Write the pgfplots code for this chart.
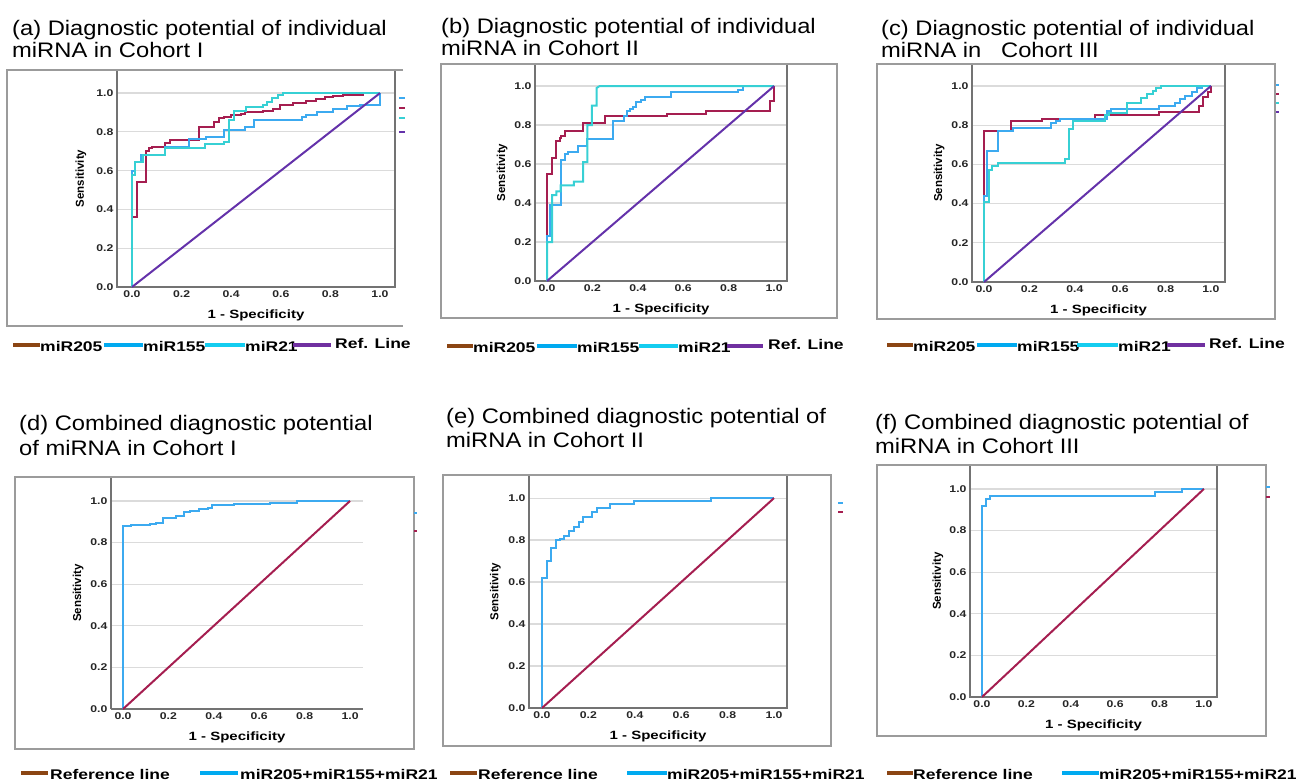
\documentclass[border=0pt]{standalone}
\usepackage{fontspec}
\setmainfont{Liberation Sans}
\newfontfamily\wide[FakeStretch=1.25]{Liberation Sans}
\newfontfamily\tfont[FakeStretch=1.13]{Liberation Sans}
\usepackage{pgfplots}
\pgfplotsset{compat=1.18}
\definecolor{c205}{RGB}{165,30,80}
\definecolor{c155}{RGB}{60,170,240}
\definecolor{c21}{RGB}{55,208,212}
\definecolor{cref}{RGB}{100,50,170}
\definecolor{lbrown}{RGB}{139,69,19}
\definecolor{lblue}{RGB}{0,170,240}
\definecolor{lcyan}{RGB}{20,205,240}
\definecolor{lpurple}{RGB}{112,48,160}
\definecolor{frame}{RGB}{155,155,155}
\definecolor{axisgray}{RGB}{115,115,115}

\pgfplotsset{
  roc/.style={
    scale only axis, anchor=north west,
    xtick={0,0.2,0.4,0.6,0.8,1}, ytick={0,0.2,0.4,0.6,0.8,1},
    xticklabels={0.0,0.2,0.4,0.6,0.8,1.0},
    yticklabels={0.0,0.2,0.4,0.6,0.8,1.0},
    major tick length=0pt,
    ymajorgrids, grid style={color=black!14, line width=1.2pt},
    axis line style={axisgray, line width=1.4pt},
    tick label style={font=\wide\fontsize{9.8}{11}\selectfont\bfseries, text=black!85},
    xlabel={1 - Specificity}, ylabel={Sensitivity},
    xlabel style={font=\wide\fontsize{12}{14}\selectfont\bfseries,
      at={(axis description cs:0.5,0)}, anchor=center, yshift=-28pt},
    ylabel style={font=\fontsize{11.5}{13}\selectfont\bfseries,
      at={(axis description cs:-0.13,0.5)}, anchor=center},
    ymin=0,
    every axis plot/.append style={line width=2pt},
  }
}
\newcommand{\lbar}[4]{\draw[#4, line width=4pt] (#1pt,-#3pt) -- (#2pt,-#3pt);}
\newcommand{\ltext}[3]{\node[anchor=west, inner sep=0pt, font=\wide\fontsize{14}{16}\selectfont\bfseries] at (#1pt,-#2pt) {#3};}
\newcommand{\ttext}[3]{\node[anchor=base west, inner sep=0pt, font=\tfont\fontsize{21}{23}\selectfont] at (#1pt,-#2pt) {#3};}
\newcommand{\dash}[4]{\draw[#4, line width=2pt] (#1pt,-#3pt) -- (#2pt,-#3pt);}

\begin{document}
\begin{tikzpicture}
\useasboundingbox (0pt,0pt) rectangle (1297pt,-780pt);

% ---------- (a)
\begin{axis}[roc, at={(117pt,-70pt)}, width=278pt, height=217pt,
  xmin=-0.0605, xmax=1.0605, ymax=1.119]
\addplot[c205] coordinates {(0,0) (0,0.36) (0.02,0.36) (0.02,0.54) (0.058,0.54) (0.058,0.70) (0.07,0.70) (0.07,0.715) (0.08,0.715) (0.08,0.72) (0.134,0.72) (0.134,0.745) (0.154,0.745) (0.154,0.76) (0.27,0.76) (0.27,0.825) (0.33,0.825) (0.33,0.85) (0.35,0.85) (0.35,0.87) (0.37,0.87) (0.37,0.875) (0.40,0.875) (0.40,0.885) (0.44,0.885) (0.44,0.89) (0.456,0.89) (0.456,0.90) (0.49,0.90) (0.49,0.905) (0.53,0.905) (0.53,0.91) (0.57,0.91) (0.57,0.92) (0.595,0.92) (0.595,0.94) (0.65,0.94) (0.65,0.95) (0.70,0.95) (0.70,0.96) (0.74,0.96) (0.74,0.97) (0.78,0.97) (0.78,0.98) (0.81,0.98) (0.81,0.985) (0.85,0.985) (0.85,0.99) (0.93,0.99) (0.93,1) (1,1)};
\addplot[c155] coordinates {(0,0) (0,0.60) (0.013,0.60) (0.013,0.645) (0.035,0.645) (0.035,0.68) (0.134,0.68) (0.134,0.72) (0.228,0.72) (0.228,0.765) (0.30,0.765) (0.30,0.775) (0.37,0.775) (0.37,0.81) (0.456,0.81) (0.456,0.825) (0.49,0.825) (0.49,0.86) (0.685,0.86) (0.685,0.875) (0.70,0.875) (0.70,0.885) (0.745,0.885) (0.745,0.905) (0.81,0.905) (0.81,0.92) (0.866,0.92) (0.866,0.935) (0.92,0.935) (0.92,0.94) (1,0.94) (1,1)};
\addplot[c21] coordinates {(0,0) (0,0.58) (0.013,0.58) (0.013,0.645) (0.045,0.645) (0.045,0.68) (0.134,0.68) (0.134,0.715) (0.295,0.715) (0.295,0.74) (0.37,0.74) (0.37,0.75) (0.39,0.75) (0.39,0.86) (0.41,0.86) (0.41,0.91) (0.46,0.91) (0.46,0.93) (0.53,0.93) (0.53,0.94) (0.545,0.94) (0.545,0.955) (0.565,0.955) (0.565,0.975) (0.59,0.975) (0.59,0.99) (0.61,0.99) (0.61,1) (1,1)};
\addplot[cref] coordinates {(0,0) (1,1)};
\end{axis}

% ---------- (b)
\begin{axis}[roc, at={(535pt,-64pt)}, width=252pt, height=217pt,
  xmin=-0.053, xmax=1.057, ymax=1.113]
\addplot[c205] coordinates {(0,0) (0,0.55) (0.022,0.55) (0.022,0.63) (0.041,0.63) (0.041,0.72) (0.056,0.72) (0.056,0.735) (0.063,0.735) (0.063,0.745) (0.078,0.745) (0.078,0.77) (0.159,0.77) (0.159,0.81) (0.254,0.81) (0.254,0.845) (0.53,0.845) (0.53,0.855) (0.70,0.855) (0.70,0.87) (0.98,0.87) (0.98,0.925) (1,0.925) (1,1)};
\addplot[c155] coordinates {(0,0) (0,0.23) (0.015,0.23) (0.015,0.39) (0.063,0.39) (0.063,0.62) (0.078,0.62) (0.078,0.65) (0.093,0.65) (0.093,0.66) (0.137,0.66) (0.137,0.69) (0.174,0.69) (0.174,0.73) (0.29,0.73) (0.29,0.82) (0.338,0.82) (0.338,0.845) (0.35,0.845) (0.35,0.87) (0.365,0.87) (0.365,0.88) (0.38,0.88) (0.38,0.895) (0.394,0.895) (0.394,0.92) (0.416,0.92) (0.416,0.93) (0.43,0.93) (0.43,0.945) (0.544,0.945) (0.544,0.97) (0.843,0.97) (0.843,0.98) (0.865,0.98) (0.865,1) (1,1)};
\addplot[c21] coordinates {(0,0) (0,0.2) (0.022,0.2) (0.022,0.44) (0.041,0.44) (0.041,0.46) (0.06,0.46) (0.06,0.49) (0.118,0.49) (0.118,0.51) (0.159,0.51) (0.159,0.61) (0.178,0.61) (0.178,0.80) (0.198,0.80) (0.198,0.90) (0.218,0.90) (0.218,0.99) (0.232,1) (1,1)};
\addplot[cref] coordinates {(0,0) (1,1)};
\end{axis}

% ---------- (c)
\begin{axis}[roc, at={(972pt,-64pt)}, width=253pt, height=218pt,
  xmin=-0.053, xmax=1.062, ymax=1.112]
\addplot[c205] coordinates {(0,0) (0,0.77) (0.12,0.77) (0.12,0.82) (0.257,0.82) (0.257,0.83) (0.49,0.83) (0.49,0.85) (0.77,0.85) (0.77,0.867) (0.947,0.867) (0.947,0.90) (0.965,0.90) (0.965,0.944) (0.985,0.944) (0.985,0.97) (1,0.97) (1,1)};
\addplot[c155] coordinates {(0,0) (0,0.44) (0.015,0.44) (0.015,0.67) (0.06,0.67) (0.06,0.77) (0.128,0.77) (0.128,0.785) (0.297,0.785) (0.297,0.81) (0.315,0.81) (0.315,0.82) (0.334,0.82) (0.334,0.83) (0.54,0.83) (0.54,0.87) (0.56,0.87) (0.56,0.88) (0.77,0.88) (0.77,0.90) (0.84,0.90) (0.84,0.915) (0.863,0.915) (0.863,0.935) (0.885,0.935) (0.885,0.95) (0.915,0.95) (0.915,0.97) (0.94,0.97) (0.94,0.99) (0.96,0.99) (0.96,1) (1,1)};
\addplot[c21] coordinates {(0,0) (0,0.41) (0.022,0.41) (0.022,0.57) (0.037,0.57) (0.037,0.59) (0.06,0.59) (0.06,0.605) (0.356,0.605) (0.356,0.625) (0.375,0.625) (0.375,0.78) (0.393,0.78) (0.393,0.82) (0.532,0.82) (0.532,0.85) (0.55,0.85) (0.55,0.86) (0.628,0.86) (0.628,0.915) (0.69,0.915) (0.69,0.94) (0.716,0.94) (0.716,0.96) (0.743,0.96) (0.743,0.975) (0.76,0.975) (0.76,0.99) (0.78,0.99) (0.78,1) (1,1)};
\addplot[cref] coordinates {(0,0) (1,1)};
\end{axis}

% ---------- (d)
\begin{axis}[roc, at={(111pt,-477pt)}, width=252pt, height=232pt,
  xmin=-0.053, xmax=1.057, ymax=1.115,
  axis x line*=bottom, axis y line*=left]
\addplot[c155] coordinates {(0,0) (0,0.88) (0.037,0.88) (0.037,0.885) (0.118,0.885) (0.118,0.89) (0.147,0.89) (0.147,0.895) (0.176,0.895) (0.176,0.92) (0.235,0.92) (0.235,0.93) (0.27,0.93) (0.27,0.945) (0.294,0.945) (0.294,0.95) (0.335,0.95) (0.335,0.96) (0.375,0.96) (0.375,0.965) (0.394,0.965) (0.394,0.98) (0.49,0.98) (0.49,0.985) (0.647,0.985) (0.647,0.99) (0.765,0.99) (0.765,1) (1,1)};
\addplot[c205] coordinates {(0,0) (1,1)};
\end{axis}

% ---------- (e)
\begin{axis}[roc, at={(529pt,-475pt)}, width=258pt, height=233pt,
  xmin=-0.056, xmax=1.056, ymax=1.11]
\addplot[c155] coordinates {(0,0) (0,0.62) (0.022,0.62) (0.022,0.70) (0.039,0.70) (0.039,0.76) (0.06,0.76) (0.06,0.80) (0.079,0.80) (0.079,0.805) (0.096,0.805) (0.096,0.82) (0.118,0.82) (0.118,0.845) (0.136,0.845) (0.136,0.86) (0.158,0.86) (0.158,0.885) (0.176,0.885) (0.176,0.91) (0.215,0.91) (0.215,0.935) (0.237,0.935) (0.237,0.955) (0.294,0.955) (0.294,0.97) (0.395,0.97) (0.395,0.985) (0.727,0.985) (0.727,1) (1,1)};
\addplot[c205] coordinates {(0,0) (1,1)};
\end{axis}

% ---------- (f)
\begin{axis}[roc, at={(970pt,-465pt)}, width=247pt, height=232pt,
  xmin=-0.054, xmax=1.059, ymax=1.115]
\addplot[c155] coordinates {(0,0) (0,0.92) (0.02,0.92) (0.02,0.95) (0.038,0.95) (0.038,0.965) (0.78,0.965) (0.78,0.985) (0.90,0.985) (0.90,1) (1,1)};
\addplot[c205] coordinates {(0,0) (1,1)};
\end{axis}

% outer frames
\draw[frame, line width=1.6pt] (403pt,-70pt) -- (7pt,-70pt) -- (7pt,-326pt) -- (403pt,-326pt);
\draw[frame, line width=1.6pt] (441pt,-64pt) rectangle (837pt,-318pt);
\draw[frame, line width=1.6pt] (877pt,-64pt) rectangle (1275pt,-319pt);
\draw[frame, line width=1.6pt] (15pt,-477pt) rectangle (414pt,-749pt);
\draw[frame, line width=1.6pt] (443pt,-475pt) rectangle (831pt,-746pt);
\draw[frame, line width=1.6pt] (877pt,-465pt) rectangle (1266pt,-736pt);

% small legend keys at the right edges
\dash{399}{405}{98}{c155} \dash{399}{405}{108}{c205} \dash{399}{405}{118}{c21} \dash{399}{405}{132}{cref}
\dash{1276}{1279}{85}{c155} \dash{1276}{1279}{94}{c205} \dash{1276}{1279}{103}{c21} \dash{1276}{1279}{112}{cref}
\dash{414}{417}{513}{c155} \dash{414}{417}{531}{c205}
\dash{838}{843}{503}{c155} \dash{838}{843}{512}{c205}
\dash{1266}{1270}{487}{c155} \dash{1266}{1270}{497}{c205}

% titles
\ttext{12}{35}{(a) Diagnostic potential of individual}
\ttext{12}{57}{miRNA in Cohort I}
\ttext{441}{33}{(b) Diagnostic potential of individual}
\ttext{441}{55}{miRNA in Cohort II}
\ttext{881}{35}{(c) Diagnostic potential of individual}
\ttext{881}{57}{miRNA in\ \ \ Cohort III}
\ttext{19}{430}{(d) Combined diagnostic potential}
\ttext{19}{455}{of miRNA in Cohort I}
\ttext{446}{423}{(e) Combined diagnostic potential of}
\ttext{446}{447}{miRNA in Cohort II}
\ttext{875}{429}{(f) Combined diagnostic potential of}
\ttext{875}{453}{miRNA in Cohort III}

% legends
\lbar{13}{40}{345}{lbrown}\ltext{40}{346}{miR205}
\lbar{104}{143}{345}{lblue}\ltext{143}{346}{miR155}
\lbar{205}{245}{345}{lcyan}\ltext{245}{346}{miR21}
\lbar{293}{331}{345}{lpurple}\ltext{335}{343}{Ref. Line}

\lbar{447}{473}{346}{lbrown}\ltext{473}{347}{miR205}
\lbar{537}{577}{346}{lblue}\ltext{577}{347}{miR155}
\lbar{639}{678}{346}{lcyan}\ltext{678}{347}{miR21}
\lbar{727}{763}{346}{lpurple}\ltext{768}{344}{Ref. Line}

\lbar{887}{913}{345}{lbrown}\ltext{913}{346}{miR205}
\lbar{977}{1017}{345}{lblue}\ltext{1017}{346}{miR155}
\lbar{1077}{1118}{345}{lcyan}\ltext{1118}{346}{miR21}
\lbar{1167}{1205}{345}{lpurple}\ltext{1209}{343}{Ref. Line}

\lbar{21}{48}{773}{lbrown}\ltext{50}{774}{Reference line}
\lbar{200}{238}{773}{lblue}\ltext{240}{774}{miR205+miR155+miR21}
\lbar{450}{477}{773}{lbrown}\ltext{478}{774}{Reference line}
\lbar{627}{667}{773}{lblue}\ltext{667}{774}{miR205+miR155+miR21}
\lbar{887}{913}{773}{lbrown}\ltext{913}{774}{Reference line}
\lbar{1062}{1099}{773}{lblue}\ltext{1099}{774}{miR205+miR155+miR21}
\end{tikzpicture}
\end{document}
